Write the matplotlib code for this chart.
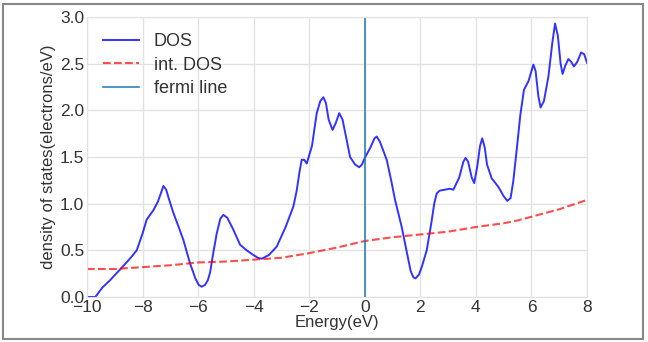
import matplotlib
matplotlib.use('Agg')
import matplotlib.pyplot as plt
from matplotlib.patches import Rectangle

# DOS curve
energy = [-10.0, -9.7, -9.45, -9.17, -8.7, -8.4, -8.21, -8.0, -7.85, -7.61, -7.45, -7.33,
          -7.25, -7.15, -7.05, -6.89, -6.7, -6.53, -6.29, -6.1, -5.98, -5.87, -5.75,
          -5.65, -5.57, -5.45, -5.33, -5.2, -5.09, -4.95, -4.73, -4.49, -4.25, -4.01,
          -3.85, -3.71, -3.45, -3.17, -2.85, -2.57, -2.45, -2.35, -2.27, -2.18, -2.09,
          -1.9, -1.73, -1.6, -1.49, -1.4, -1.3, -1.16, -1.05, -0.92, -0.8, -0.65,
          -0.53, -0.35, -0.2, -0.1, 0.0, 0.2, 0.35, 0.43, 0.55, 0.79, 0.95, 1.09,
          1.33, 1.5, 1.65, 1.75, 1.83, 1.95, 2.05, 2.23, 2.4, 2.5, 2.59, 2.7, 2.89,
          3.05, 3.19, 3.4, 3.55, 3.63, 3.72, 3.85, 3.94, 4.05, 4.15, 4.23, 4.32, 4.4,
          4.57, 4.81, 5.0, 5.13, 5.25, 5.35, 5.47, 5.6, 5.73, 5.89, 6.0, 6.07, 6.15,
          6.25, 6.33, 6.45, 6.61, 6.75, 6.85, 6.95, 7.05, 7.12, 7.22, 7.33, 7.43,
          7.53, 7.65, 7.79, 7.9, 8.0]
dos = [0.0, 0.0, 0.1, 0.18, 0.33, 0.43, 0.5, 0.68, 0.83, 0.93, 1.02, 1.12,
       1.19, 1.15, 1.05, 0.9, 0.75, 0.61, 0.36, 0.2, 0.13, 0.11, 0.13,
       0.18, 0.26, 0.48, 0.68, 0.84, 0.88, 0.85, 0.72, 0.56, 0.5, 0.45,
       0.42, 0.41, 0.45, 0.54, 0.75, 0.97, 1.14, 1.34, 1.47, 1.47, 1.43,
       1.62, 1.97, 2.1, 2.14, 2.08, 1.9, 1.79, 1.86, 1.97, 1.9, 1.68,
       1.5, 1.42, 1.39, 1.42, 1.49, 1.6, 1.7, 1.72, 1.66, 1.47, 1.25, 1.04,
       0.75, 0.5, 0.28, 0.21, 0.2, 0.24, 0.32, 0.5, 0.8, 1.0, 1.11, 1.14, 1.15,
       1.16, 1.15, 1.28, 1.45, 1.49, 1.45, 1.28, 1.22, 1.4, 1.62, 1.7, 1.6, 1.42,
       1.27, 1.18, 1.08, 1.03, 1.06, 1.25, 1.58, 1.95, 2.22, 2.31, 2.42, 2.49, 2.42,
       2.15, 2.03, 2.1, 2.36, 2.72, 2.93, 2.8, 2.5, 2.39, 2.48, 2.55, 2.52,
       2.47, 2.52, 2.62, 2.6, 2.51]

# integrated DOS
int_energy = [-10, -9, -8, -7, -6, -5, -4, -3, -2, -1, 0, 1, 2, 3, 4, 5, 5.5, 6, 7, 8]
int_dos = [0.30, 0.30, 0.32, 0.34, 0.37, 0.38, 0.40, 0.42, 0.47, 0.53, 0.60, 0.64,
           0.67, 0.70, 0.75, 0.79, 0.82, 0.86, 0.94, 1.04]

fermi = 0.0

plt.rcParams['font.family'] = ['Liberation Sans', 'DejaVu Sans']
plt.rcParams['font.size'] = 12

fig = plt.figure(figsize=(6.48, 3.42), dpi=100)
ax = fig.add_axes([87 / 648, 45 / 342, 500 / 648, 280 / 342])

ax.plot(energy, dos, color='blue', alpha=0.8, lw=1.4, label='DOS')
ax.plot(int_energy, int_dos, color='red', alpha=0.7, lw=1.5, ls='--', label='int. DOS')
ax.axvline(fermi, color='#1f77b4', lw=1.1, label='fermi line')

ax.set_xlim(-10, 8)
ax.set_ylim(0, 3)
ax.set_xticks(range(-10, 9, 2))
ax.set_yticks([0, 0.5, 1.0, 1.5, 2.0, 2.5, 3.0])
ax.grid(True, color='#e2e2e2', lw=1)
ax.set_axisbelow(True)
for s in ax.spines.values():
    s.set_color('#e2e2e2')
ax.tick_params(length=0, pad=2, labelcolor='#333333', labelsize=12.5)
ax.set_xlabel('Energy(eV)', color='#333333', labelpad=0)
ax.set_ylabel('density of states(electrons/eV)', color='#333333', labelpad=3)
leg = ax.legend(loc='upper left', frameon=False, fontsize=13, handlelength=2.0,
                borderaxespad=0.5, labelspacing=0.35)
for t in leg.get_texts():
    t.set_color('#333333')

# gray border round the figure
fig.patches.append(Rectangle((3 / 648, 3 / 342), 640 / 648, 335 / 342,
                             transform=fig.transFigure, fill=False,
                             edgecolor='#888888', lw=1.5))

plt.savefig('out.png')
